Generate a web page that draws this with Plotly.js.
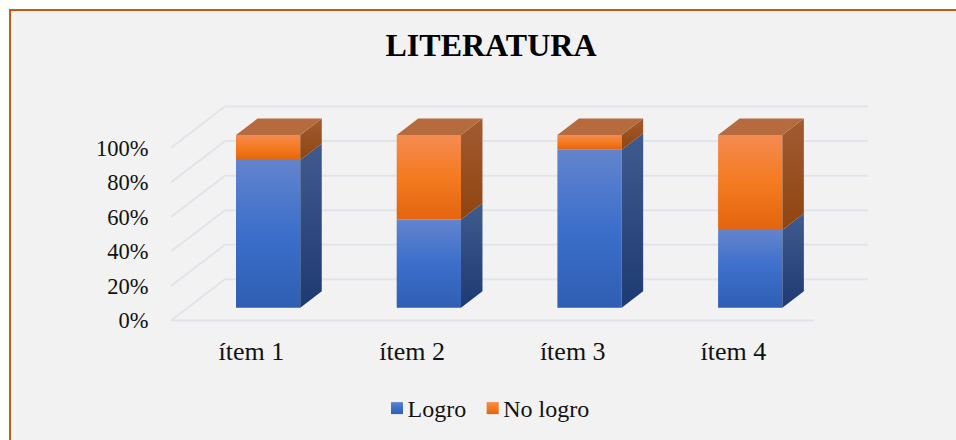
<!DOCTYPE html>
<html>
<head>
<meta charset="utf-8">
<script src="https://cdn.plot.ly/plotly-3.0.1.min.js"></script>
<style>
html,body{margin:0;padding:0;background:#fff;overflow:hidden;width:956px;height:440px}
#frame{position:absolute;left:9px;top:9px;width:960px;height:440px;background:#f2f2f2;border:2px solid #c55a11;box-sizing:border-box}
#chart{position:absolute;left:0;top:0;width:956px;height:440px}
</style>
</head>
<body>
<div id="frame"></div>
<div id="chart"></div>
<script>
const categories = ["ítem 1", "ítem 2", "ítem 3", "ítem 4"];
const logro = [85.5, 51, 91.5, 45];
const noLogro = [14.5, 49, 8.5, 55];
const percentTicks = [0, 20, 40, 60, 80, 100];
const tickLabels = ["0%", "20%", "40%", "60%", "80%", "100%"];

// oblique projection, in axis units
const wallDx = 0.336, wallDy = 23.9;      // shift from front plane to back wall
const barNear = 0.311, barFar = 0.709;    // depth of bar front / back
const barWidth = 0.4;
const proj = (x, y, d) => [x + wallDx * d, y + wallDy * d];
const barLeft = i => i - 0.5 * barWidth;

const BLUE = {front: [[0,'#2f5fb3'],[0.5,'#3b6fcb'],[1,'#6384cd']], side: [[0,'#1d3a72'],[1,'#3f5b8e']]};
const ORANGE = {front: [[0,'#e3650f'],[0.5,'#f47a20'],[1,'#f58b52']], side: [[0,'#8f4510'],[1,'#a25b32']]};
const TOP_COLOR = '#b66b3f';

function poly(points, extra) {
  return Object.assign({
    type: 'scatter', mode: 'lines', fill: 'toself', showlegend: false, hoverinfo: 'skip',
    line: {width: 0}, x: points.map(p => p[0]), y: points.map(p => p[1])
  }, extra);
}

const traces = [];
categories.forEach((c, i) => {
  const l = barLeft(i), r = l + barWidth;
  const a = logro[i], b = logro[i] + noLogro[i];
  const side = (y0, y1) => [proj(r, y0, barNear), proj(r, y0, barFar), proj(r, y1, barFar), proj(r, y1, barNear), proj(r, y0, barNear)];
  traces.push(poly(side(0, a), {fillgradient: {type: 'vertical', colorscale: BLUE.side}, fillcolor: '#2a4a85'}));
  traces.push(poly(side(a, b), {fillgradient: {type: 'vertical', colorscale: ORANGE.side}, fillcolor: '#96501c'}));
  traces.push(poly([proj(l, b, barNear), proj(r, b, barNear), proj(r, b, barFar), proj(l, b, barFar), proj(l, b, barNear)], {fillcolor: TOP_COLOR}));
});

const xMid = categories.map((c, i) => proj(i, 0, barNear)[0]);
const baseFront = categories.map(() => proj(0, 0, barNear)[1]);
traces.push({type: 'bar', name: 'Logro', x: xMid, y: logro, base: baseFront, width: barWidth,
  marker: {color: '#3b6fcb', line: {width: 0}}, hoverinfo: 'skip'});
traces.push({type: 'bar', name: 'No logro', x: xMid, y: noLogro,
  base: logro.map((v, i) => v + baseFront[i]), width: barWidth,
  marker: {color: '#f47a20', line: {width: 0}}, hoverinfo: 'skip'});

const gridColor = '#e1e4ea';
const shapes = [];
percentTicks.forEach(t => {
  const [x0, y0] = proj(-0.5, t, 0), [x1, y1] = proj(-0.5, t, 1), [x2, y2] = proj(3.5, t, 1);
  const ln = {color: gridColor, width: 2};
  shapes.push({type: 'line', layer: 'below', xref: 'x', yref: 'y', x0, y0, x1, y1, line: ln});
  shapes.push({type: 'line', layer: 'below', xref: 'x', yref: 'y', x0: x1, y0: y1, x1: x2, y1: y2, line: ln});
});
shapes.push({type: 'line', layer: 'below', xref: 'x', yref: 'y', x0: -0.5, y0: 0, x1: 3.5, y1: 0, line: {color: gridColor, width: 2}});

const serif = '"Liberation Serif", "Times New Roman", serif';
const W = 956, H = 440;
const layout = {
  width: W, height: H, paper_bgcolor: 'rgba(0,0,0,0)', plot_bgcolor: 'rgba(0,0,0,0)',
  margin: {l: 171, r: 956 - 869, t: 104.5, b: 115.5, pad: 0},
  barmode: 'overlay',
  title: {text: '<b>LITERATURA</b>', font: {family: serif, size: 32, color: '#000'}, x: 491 / W, xanchor: 'center', y: 1 - 45 / H, yanchor: 'middle'},
  font: {family: serif, color: '#111'},
  showlegend: true,
  legend: {orientation: 'h', xref: 'container', yref: 'container', x: 377 / W, xanchor: 'left', y: 1 - 408.5 / H, yanchor: 'middle',
    font: {family: serif, size: 24, color: '#111'}, itemwidth: 30, traceorder: 'normal', bgcolor: 'rgba(0,0,0,0)'},
  xaxis: {type: 'linear', range: [-0.5, 3.8435], tickmode: 'array', tickvals: categories.map((c, i) => i), ticktext: categories,
    showgrid: false, zeroline: false, showline: false, ticks: 'outside', ticklen: 4, tickcolor: 'rgba(0,0,0,0)',
    tickfont: {family: serif, size: 26, color: '#111'}, fixedrange: true},
  yaxis: {range: [-2, 124.8], tickmode: 'array', tickvals: percentTicks, ticktext: tickLabels,
    showgrid: false, zeroline: false, showline: false, ticks: 'outside', ticklen: 17, tickcolor: 'rgba(0,0,0,0)',
    tickfont: {family: serif, size: 22.5, color: '#111'}, fixedrange: true},
  shapes
};

function addGradients() {
  const svg = document.querySelector('#chart svg.main-svg');
  const ns = 'http://www.w3.org/2000/svg';
  const defs = document.createElementNS(ns, 'defs');
  const mk = (id, scale) => {
    const g = document.createElementNS(ns, 'linearGradient');
    g.setAttribute('id', id);
    g.setAttribute('x1', '0'); g.setAttribute('y1', '1'); g.setAttribute('x2', '0'); g.setAttribute('y2', '0');
    scale.forEach(s => {
      const st = document.createElementNS(ns, 'stop');
      st.setAttribute('offset', s[0]); st.setAttribute('stop-color', s[1]);
      g.appendChild(st);
    });
    defs.appendChild(g);
  };
  mk('gBlue', BLUE.front); mk('gOrange', ORANGE.front);
  svg.insertBefore(defs, svg.firstChild);
  const ids = ['gBlue', 'gOrange'];
  document.querySelectorAll('#chart .barlayer .trace').forEach((t, k) => {
    t.querySelectorAll('path').forEach(p => { p.style.fill = 'url(#' + ids[k] + ')'; });
  });
  document.querySelectorAll('#chart .legend .traces').forEach((t, k) => {
    t.querySelectorAll('.legendundefined, .legendbar path, path.legendbar').forEach(p => { p.style.fill = 'url(#' + ids[k] + ')'; });
    // tighten the swatch/text gap and the item spacing of the legend
    const txt = t.querySelector('text.legendtext');
    if (txt) {
      txt.setAttribute('x', parseFloat(txt.getAttribute('x')) - 9.5);
      txt.querySelectorAll('tspan[x]').forEach(s => s.setAttribute('x', parseFloat(s.getAttribute('x')) - 9.5));
    }
    if (k === 1) {
      const m = /translate\(([-\d.]+),\s*([-\d.]+)\)/.exec(t.getAttribute('transform') || '');
      if (m) t.setAttribute('transform', 'translate(' + (parseFloat(m[1]) - 8) + ',' + m[2] + ')');
    }
  });
}
Plotly.newPlot('chart', traces, layout, {displayModeBar: false, staticPlot: true}).then(addGradients);
</script>
</body>
</html>
